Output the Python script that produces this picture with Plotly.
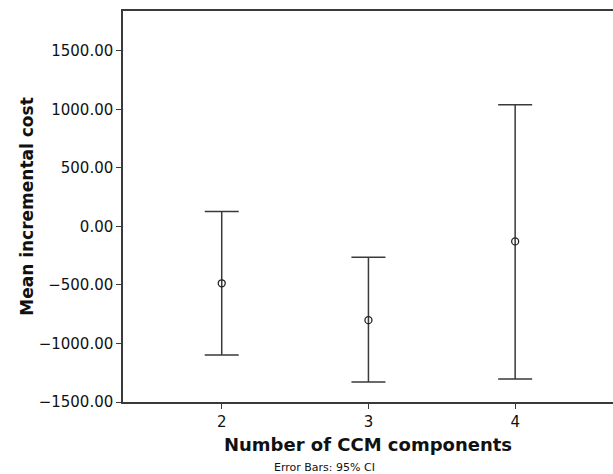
import plotly.graph_objects as go

categories = [2, 3, 4]
means = [-486, -801, -128]
upper = [128, -264, 1039]
lower = [-1099, -1329, -1303]

err_plus = [u - m for u, m in zip(upper, means)]
err_minus = [m - l for m, l in zip(means, lower)]

line_col = "#3a3a3a"

fig = go.Figure()
fig.add_trace(go.Scatter(
    x=categories, y=means, mode="markers",
    marker=dict(symbol="circle-open", size=7, color="#222222", line=dict(width=1.3)),
    error_y=dict(type="data", symmetric=False, array=err_plus, arrayminus=err_minus,
                 color=line_col, thickness=1.5, width=17),
    showlegend=False,
))

fig.update_layout(
    width=613, height=474,
    margin=dict(l=123, r=0, t=11, b=72),
    plot_bgcolor="white", paper_bgcolor="white",
    font=dict(family="DejaVu Sans", color="#111111"),
    xaxis=dict(
        range=[1.327, 4.667], tickvals=categories, ticktext=[str(c) for c in categories],
        showline=True, linecolor=line_col, linewidth=1.5, mirror=True,
        ticks="outside", ticklen=5, tickcolor=line_col, showgrid=False, zeroline=False,
        tickfont=dict(size=15), automargin=False,
        title=dict(text="<b>Number of CCM components</b>", font=dict(size=18), standoff=9),
    ),
    yaxis=dict(
        range=[-1500, 1840], tickvals=[-1500, -1000, -500, 0, 500, 1000, 1500],
        tickformat=".2f",
        showline=True, linecolor=line_col, linewidth=1.5,
        ticks="outside", ticklen=5, tickcolor=line_col, showgrid=False, zeroline=False,
        tickfont=dict(size=15), automargin=False,
        title=dict(text="<b>Mean incremental cost</b>", font=dict(size=17), standoff=1),
    ),
    annotations=[dict(text="Error Bars: 95% CI", xref="paper", yref="paper",
                      x=0.412, y=0, yshift=-65, showarrow=False,
                      font=dict(size=11), xanchor="center", yanchor="middle")],
)

fig.write_html("out.html", config={"displayModeBar": False},
               post_script="document.body.style.margin='0';document.body.style.overflow='hidden';")
